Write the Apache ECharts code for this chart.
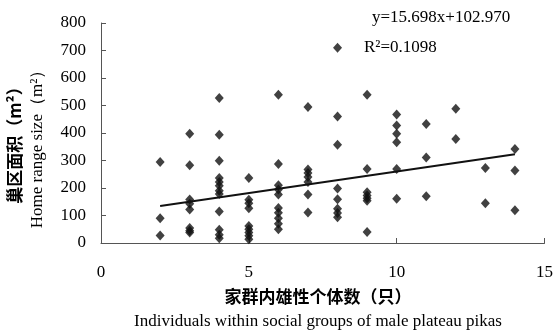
<!DOCTYPE html>
<html>
<head>
<meta charset="utf-8">
<script src="https://cdn.jsdelivr.net/npm/echarts@6/dist/echarts.min.js"></script>
<style>
html,body{margin:0;padding:0;background:#fff;}
#c{width:556px;height:333px;}
</style>
</head>
<body>
<div id="c"></div>
<script>
// Number of males in the social group (x) and home range sizes (y, m²)
var groupSizes = [2, 3, 4, 5, 6, 7, 8, 9, 10, 11, 12, 13, 14];
var homeRanges = [
  [295, 90, 27],
  [397, 283, 158, 143, 122, 55, 45, 38],
  [527, 394, 299, 236, 222, 208, 190, 178, 115, 48, 30, 17],
  [236, 157, 145, 126, 62, 50, 38, 26, 14],
  [539, 287, 210, 195, 176, 127, 110, 90, 70, 50],
  [495, 267, 255, 240, 222, 176, 111],
  [710, 460, 357, 198, 159, 125, 109, 94],
  [539, 269, 185, 173, 163, 154, 40],
  [467, 427, 397, 366, 269, 161],
  [433, 311, 170],
  [488, 378],
  [273, 145],
  [342, 264, 119]
];
// Regression y = 15.698x + 102.970, drawn over x = 2..14
var fitSlope = 15.698;
var fitIntercept = 102.970;
var fitRange = [2, 14];
var xTicks = [0, 5, 10, 15];
var yTicks = [0, 100, 200, 300, 400, 500, 600, 700, 800];

var points = [];
groupSizes.forEach(function (g, i) {
  homeRanges[i].forEach(function (v) { points.push([g, v]); });
});
var fitLine = fitRange.map(function (x) { return [x, fitSlope * x + fitIntercept]; });

var serif = '"Liberation Serif", "DejaVu Serif", serif';
var cjk = '"Noto Sans CJK SC", sans-serif';
var axisColor = '#555';

var chart = echarts.init(document.getElementById('c'));
chart.setOption({
  animation: false,
  backgroundColor: '#fff',
  grid: { left: 101, right: 7, top: 23, bottom: 90 },
  xAxis: {
    type: 'value',
    min: xTicks[0], max: xTicks[xTicks.length - 1], interval: 5,
    splitLine: { show: false },
    axisLine: { show: true, onZero: false, lineStyle: { color: axisColor, width: 1 } },
    axisTick: { show: true, inside: true, length: 5, lineStyle: { color: axisColor } },
    axisLabel: { color: '#000', fontFamily: serif, fontSize: 17, margin: 21 }
  },
  yAxis: {
    type: 'value',
    min: yTicks[0], max: yTicks[yTicks.length - 1], interval: 100,
    splitLine: { show: false },
    axisLine: { show: true, lineStyle: { color: axisColor, width: 1 } },
    axisTick: { show: true, inside: true, length: 5, lineStyle: { color: axisColor } },
    axisLabel: { color: '#000', fontFamily: serif, fontSize: 17, margin: 15 }
  },
  series: [
    {
      type: 'scatter',
      data: points,
      symbol: 'diamond',
      symbolSize: [9, 10],
      itemStyle: { color: '#111' },
      z: 3
    },
    {
      type: 'line',
      data: fitLine,
      symbol: 'none',
      lineStyle: { color: '#111', width: 2 },
      z: 2
    }
  ],
  graphic: [
    { type: 'text', x: 372, y: 18, style: { text: 'y=15.698x+102.970', fill: '#000', font: '17px ' + serif, textAlign: 'left', textVerticalAlign: 'middle' } },
    { type: 'text', x: 364, y: 48, style: { text: 'R²=0.1098', fill: '#000', font: '17px ' + serif, textAlign: 'left', textVerticalAlign: 'middle' } },
    { type: 'text', x: 318, y: 297, style: { text: '家群内雄性个体数（只）', fill: '#000', font: 'bold 17px ' + cjk, textAlign: 'center', textVerticalAlign: 'middle' } },
    { type: 'text', x: 318, y: 322, style: { text: 'Individuals within social groups of male plateau pikas', fill: '#000', font: '17px ' + serif, textAlign: 'center', textVerticalAlign: 'middle' } },
    { type: 'text', x: 15, y: 141, rotation: Math.PI / 2, style: { text: '巢区面积（m²）', fill: '#000', font: 'bold 17px ' + cjk, textAlign: 'center', textVerticalAlign: 'middle' } },
    { type: 'text', x: 38, y: 145, rotation: Math.PI / 2, style: { text: 'Home range size（m²）', fill: '#000', font: '17px ' + serif, textAlign: 'center', textVerticalAlign: 'middle' } }
  ]
});
</script>
</body>
</html>
